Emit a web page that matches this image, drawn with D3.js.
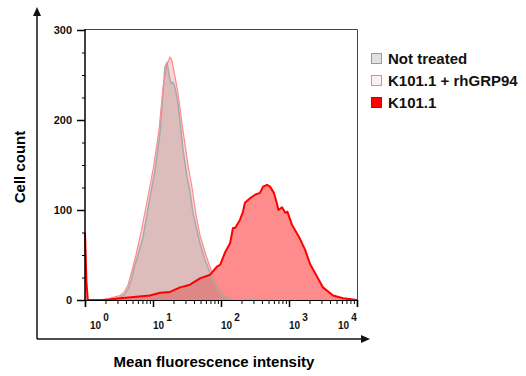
<!DOCTYPE html>
<html>
<head>
<meta charset="utf-8">
<script src="https://cdn.jsdelivr.net/npm/d3@7/dist/d3.min.js"></script>
<style>
  body { margin: 0; background: #fff; }
  text { font-family: Arial, "Liberation Sans", sans-serif; font-weight: bold; }
</style>
</head>
<body>
<div id="chart"></div>
<script>
/* global d3 */

// series names (legend order)
const seriesNames = ['Not treated', 'K101.1 + rhGRP94', 'K101.1']

// Not treated histogram (intensity, cell count)
const notTreatedMfi = [1.66, 2.33, 3.27, 3.8, 4.3, 4.8, 5.3, 6.0, 7.13, 9.03, 10.7, 12.7, 14.0, 15.0, 16.1, 17.2, 18.4, 19.7, 21.1, 23.3, 27.6, 31.6, 35, 38.7, 49, 58, 69, 84, 107, 161, 300, 500, 10000]
const notTreatedCount = [0, 1, 3, 6, 12, 22, 36, 50, 70, 114, 144, 186, 230, 259, 264, 250, 241, 242, 236, 219, 167, 137, 120, 97, 63, 45, 30, 15, 3, 0, 1, 0, 0]

// K101.1 + rhGRP94 histogram
const grp94Mfi = [1.66, 2.33, 3.27, 3.8, 4.3, 4.8, 5.62, 6.66, 8.45, 10.3, 12.3, 14.0, 16.1, 17.8, 19.0, 21.1, 23.3, 26.7, 32.7, 37.5, 42.9, 49, 60, 74, 90, 115, 145, 190, 10000]
const grp94Count = [0, 2, 5, 9, 17, 30, 50, 75, 115, 150, 190, 235, 262, 270, 266, 248, 230, 196, 150, 125, 95, 72, 50, 30, 15, 6, 2, 0, 0]

// K101.1 histogram
const k101Mfi = [1, 1.05, 1.1, 2, 3.3, 9, 12.7, 17.8, 25, 35, 49, 69, 87, 97, 115, 136, 150, 161, 190, 210, 225, 267, 316, 375, 415, 475, 526, 600, 660, 700, 790, 880, 950, 1100, 1450, 1720, 2040, 2580, 3160, 4440, 6230, 10000]
const k101Count = [75, 20, 0, 0, 2, 5, 8, 9, 14, 17, 24, 28, 37, 39, 53, 63, 80, 80, 89, 98, 108, 113, 117, 119, 126, 128, 126, 119, 108, 100, 103, 97, 98, 84, 68, 56, 40, 26, 14, 5, 2, 0]

// axis ticks
const xTickValues = [1, 10, 100, 1000, 10000]
const xTickExponents = ['0', '1', '2', '3', '4']
const yTickValues = [0, 100, 200, 300]

const width = 526,
  height = 376

let svg = d3.select('#chart')
  .append('svg')
  .attr('width', width)
  .attr('height', height)

const x = d3.scaleLog().domain([1, 10000]).range([85, 357])
const y = d3.scaleLinear().domain([0, 300]).range([300, 30])

const area = d3.area()
  .x(d => x(d[0]))
  .y0(y(0))
  .y1(d => y(d[1]))

const line = d3.line()
  .x(d => x(d[0]))
  .y(d => y(d[1]))

const series = [
  { pts: d3.zip(notTreatedMfi, notTreatedCount), fill: 'rgba(150,150,150,0.35)', stroke: '#a9a9a9', sw: 1.5 },
  { pts: d3.zip(grp94Mfi, grp94Count), fill: 'rgba(230,120,120,0.3)', stroke: '#ff8a8a', sw: 1.2 },
  { pts: d3.zip(k101Mfi, k101Count), fill: 'rgba(255,0,0,0.45)', stroke: '#ff0000', sw: 2 }
]

// fills: red first, then gray and pink over it
const fillOrder = [series[2], series[0], series[1]]
svg.selectAll('path.fill')
  .data(fillOrder)
  .enter()
  .append('path')
  .attr('class', 'fill')
  .attr('d', d => area(d.pts))
  .attr('fill', d => d.fill)

svg.selectAll('path.line')
  .data(series)
  .enter()
  .append('path')
  .attr('class', 'line')
  .attr('d', d => line(d.pts))
  .attr('fill', 'none')
  .attr('stroke', d => d.stroke)
  .attr('stroke-width', d => d.sw)
  .attr('stroke-linejoin', 'round')

// frame
svg.append('path')
  .attr('d', 'M85,29.5H357.5V300')
  .attr('fill', 'none')
  .attr('stroke', '#444')
  .attr('stroke-width', 1)

// y axis
const yAxis = d3.axisLeft(y)
  .tickValues(yTickValues)
  .tickSize(8)
  .tickPadding(5)
const gy = svg.append('g')
  .attr('transform', 'translate(85,0)')
  .call(yAxis)
gy.select('.domain').attr('d', 'M0,29V300').attr('stroke-width', 1.5)
gy.selectAll('text').style('font-size', '11px').style('font-weight', 'bold').attr('fill', '#111')
gy.selectAll('line').attr('stroke-width', 1.5)

const yMinor = d3.range(25, 300, 25).filter(v => v % 100 !== 0)
svg.append('g')
  .attr('transform', 'translate(85,0)')
  .call(d3.axisLeft(y).tickValues(yMinor).tickSize(3).tickFormat(''))
  .call(g => g.select('.domain').remove())

// x axis
const gx = svg.append('g')
  .attr('transform', 'translate(0,300)')
  .call(d3.axisBottom(x).tickValues(xTickValues).tickSize(7).tickFormat(''))
gx.select('.domain').attr('stroke-width', 1.2)
gx.selectAll('line').attr('stroke-width', 1.5)

let xMinor = []
xTickValues.slice(0, -1).forEach(v => {
  for (let k = 2; k < 10; k++) xMinor.push(v * k)
})
svg.append('g')
  .attr('transform', 'translate(0,300)')
  .call(d3.axisBottom(x).tickValues(xMinor).tickSize(4).tickFormat(''))
  .call(g => g.select('.domain').remove())

const xl = svg.append('g')
  .selectAll('text')
  .data(xTickValues)
  .enter()
  .append('text')
  .attr('x', d => Math.min(Math.max(x(d), 90), 338))
  .attr('y', 329)
  .style('font-size', '10px')
  .attr('fill', '#111')
xl.append('tspan').text('10')
xl.append('tspan')
  .attr('dx', 2)
  .attr('dy', -8)
  .style('font-size', '10px')
  .text((d, i) => xTickExponents[i])

// outer arrows
svg.append('line')
  .attr('x1', 37).attr('y1', 14).attr('x2', 37).attr('y2', 339)
  .attr('stroke', '#111').attr('stroke-width', 1.5)
svg.append('line')
  .attr('x1', 37).attr('y1', 339).attr('x2', 364).attr('y2', 339)
  .attr('stroke', '#111').attr('stroke-width', 1.5)
svg.append('path').attr('d', 'M37,7L33,16H41Z').attr('fill', '#111')
svg.append('path').attr('d', 'M370,339L361,335V343Z').attr('fill', '#111')

// axis titles
svg.append('text')
  .attr('transform', 'translate(25,167) rotate(-90)')
  .attr('text-anchor', 'middle')
  .style('font-size', '15px')
  .text('Cell count')

svg.append('text')
  .attr('x', 214)
  .attr('y', 367)
  .attr('text-anchor', 'middle')
  .style('font-size', '15px')
  .text('Mean fluorescence intensity')

// legend
const legendFill = ['#e1e1e1', '#fcefef', '#ff0000']
const legendStroke = ['#9a9a9a', '#b0a0a0', '#d00000']
const lg = svg.append('g')
  .selectAll('g')
  .data(seriesNames)
  .enter()
  .append('g')
  .attr('transform', (d, i) => `translate(371,${53 + i * 22})`)
lg.append('rect')
  .attr('x', 0.5).attr('y', 0.5)
  .attr('width', 10).attr('height', 10)
  .attr('fill', (d, i) => legendFill[i])
  .attr('stroke', (d, i) => legendStroke[i])
lg.append('text')
  .attr('x', 17)
  .attr('y', 10.5)
  .style('font-size', '15px')
  .attr('fill', '#111')
  .text(d => d)
</script>
</body>
</html>
